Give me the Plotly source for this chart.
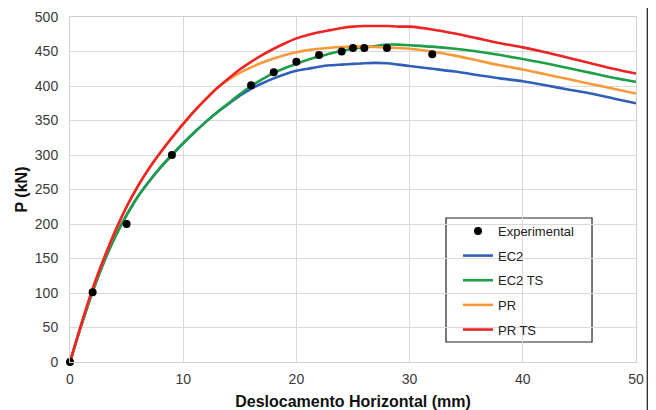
import plotly.graph_objects as go

# Experimental points
exp_x = [0, 2, 5, 9, 16, 18, 20, 22, 24, 25, 26, 28, 32]
exp_p = [0, 101, 200, 300, 401, 420, 435, 445, 450, 455, 455, 455, 446]

# Model curves (x in mm, P in kN)
curve_x = list(range(0, 31)) + [32, 34, 36, 38, 40, 42, 44, 46, 48, 50]

ec2 = [0, 53, 102, 145, 182, 213, 240, 262, 282, 300, 317, 333, 348, 362, 374, 386, 396, 404, 411, 417, 422,
       425, 428, 430, 431, 432, 433, 433.5, 433, 431, 429,
       425, 421, 416, 411, 407, 401, 395, 389, 382, 375]
ec2_ts = [0, 53, 102, 145, 182, 213, 240, 262, 282, 300, 317, 333, 348, 362, 375, 388, 400, 410, 419, 426, 432,
          438, 443, 447, 451, 454, 456, 458, 460, 460, 459,
          457, 454, 450, 445, 439, 433, 426, 419, 412, 406]
pr = [0, 55, 106, 150, 190, 225, 255, 281, 304, 325, 345, 364, 381, 397, 409, 419, 427, 434, 440, 445, 449,
      452, 454, 455.5, 456.5, 457, 457, 456.5, 456, 455, 454,
      450, 444, 437, 430, 424, 417, 410, 403, 396, 389]
pr_ts = [0, 55, 106, 150, 190, 225, 255, 281, 304, 325, 345, 364, 381, 397, 411, 424, 435, 445, 454, 462, 469,
         474, 478, 481, 484, 486, 487, 487, 487, 486, 486,
         482, 476, 469, 462, 456, 449, 441, 433, 425, 418]

x_ticks = [0, 10, 20, 30, 40, 50]
y_ticks = [0, 50, 100, 150, 200, 250, 300, 350, 400, 450, 500]

FONT = "Arial, Liberation Sans, sans-serif"

fig = go.Figure()

series = [
    ("EC2", ec2, "#2f5fb8"),
    ("EC2 TS", ec2_ts, "#1f9e48"),
    ("PR", pr, "#f7993a"),
    ("PR TS", pr_ts, "#ee2424"),
]
for i, (name, vals, col) in enumerate(series):
    fig.add_trace(go.Scatter(
        x=curve_x, y=vals, mode="lines", name=name,
        line=dict(color=col, width=2.6, shape="spline", smoothing=0.8),
        legendgroup=name, legendrank=2 + i,
    ))

fig.add_trace(go.Scatter(
    x=exp_x, y=exp_p, mode="markers", name="Experimental",
    marker=dict(color="black", size=8),
    legendgroup="exp", legendrank=1, cliponaxis=False,
))

fig.update_layout(
    width=648, height=402,
    margin=dict(l=62, r=20, t=9, b=48, autoexpand=False),
    paper_bgcolor="white", plot_bgcolor="white",
    font=dict(family=FONT, size=14, color="#3a3a3a"),
    showlegend=True,
    legend=dict(
        x=0.6855, y=0.4232, xanchor="left", yanchor="top",
        bgcolor="rgba(0,0,0,0)", borderwidth=0,
        font=dict(family=FONT, size=13, color="#222222"),
        tracegroupgap=4.75, itemwidth=30,
    ),
    xaxis=dict(
        range=[0, 50], tickvals=x_ticks, showgrid=True, gridcolor="#d9d9d9", gridwidth=1,
        zeroline=False, showline=True, linecolor="#d0d0d0", linewidth=1, mirror=True,
        ticks="", tickfont=dict(size=14, color="#3a3a3a"), ticklabelstandoff=4,
        automargin=False,
        title=dict(text="<b>Deslocamento Horizontal (mm)</b>", font=dict(size=16, color="#111111"), standoff=16),
    ),
    yaxis=dict(
        range=[0, 500], tickvals=y_ticks, showgrid=True, gridcolor="#d9d9d9", gridwidth=1,
        zeroline=False, showline=True, linecolor="#d0d0d0", linewidth=1, mirror=True,
        ticks="", tickfont=dict(size=14, color="#3a3a3a"), ticklabelstandoff=8,
        automargin=False,
        title=dict(text="<b>P (kN)</b>", font=dict(size=16, color="#111111"), standoff=3),
    ),
)

# legend box
fig.add_shape(type="rect", xref="paper", yref="paper", x0=0.6643, x1=0.9223, y0=0.058, y1=0.4174,
              line=dict(color="#222222", width=1.2), fillcolor="white", layer="below")

# frame line at the right edge of the picture
fig.add_shape(type="line", xref="paper", yref="paper", x0=1.021, x1=1.021, y0=-0.14, y1=1.03,
              line=dict(color="#333333", width=2.5))

fig.write_html("out.html")
